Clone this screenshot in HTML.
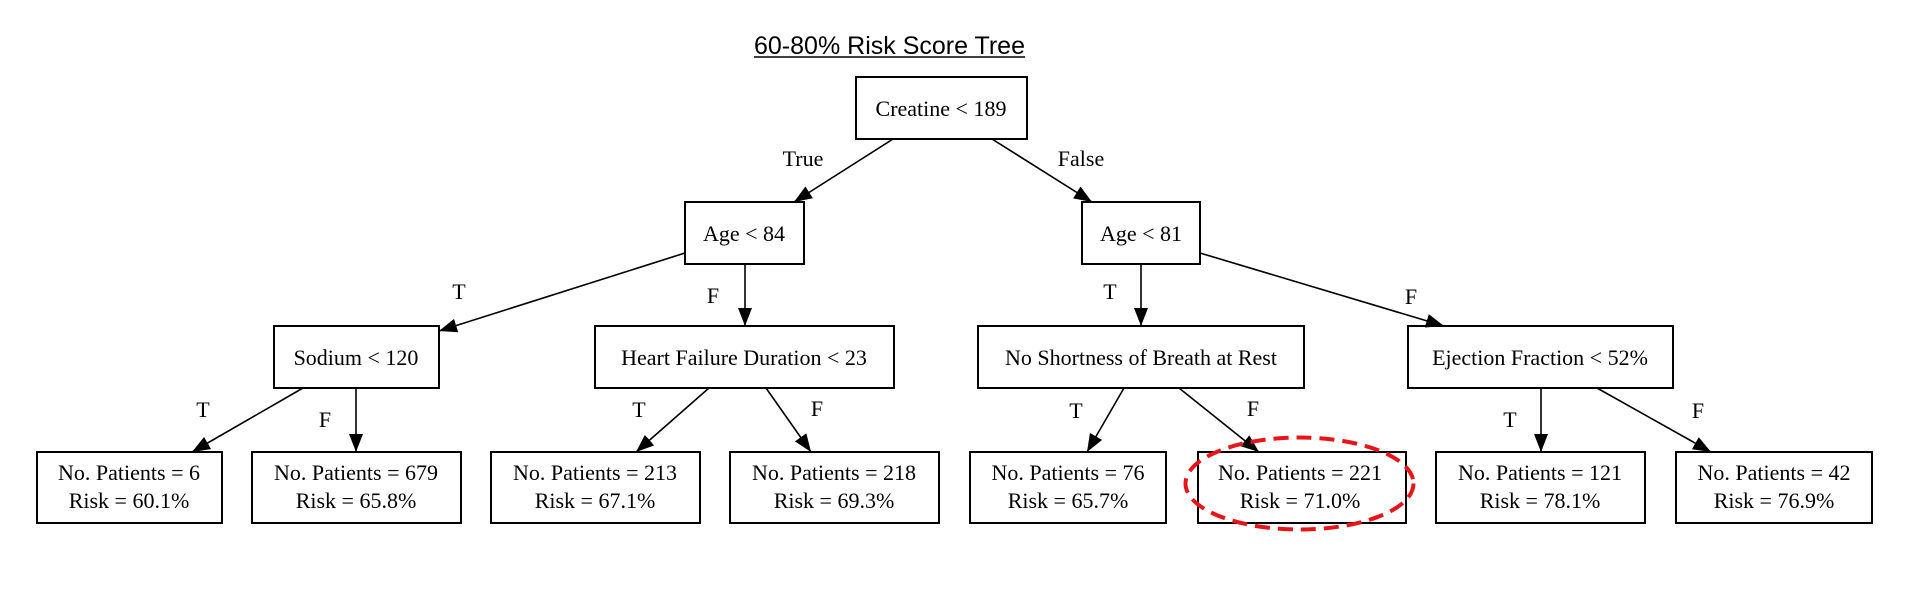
<!DOCTYPE html>
<html><head><meta charset="utf-8"><style>
html,body{margin:0;padding:0;background:#fff;}
svg{display:block;}
text{font-family:"Liberation Serif",serif;font-size:22px;fill:#000;}
.t{font-family:"Liberation Sans",sans-serif;font-size:25px;}
</style></head><body>
<svg width="1920" height="591" viewBox="0 0 1920 591" xmlns="http://www.w3.org/2000/svg">
<defs><marker id="a" markerWidth="18" markerHeight="14" refX="18" refY="7" orient="auto" markerUnits="userSpaceOnUse"><path d="M0,0 L18,7 L0,14 z" fill="#000"/></marker></defs>
<text class="t" x="754" y="54" textLength="271" lengthAdjust="spacingAndGlyphs">60-80% Risk Score Tree</text>
<line x1="754" y1="57" x2="1025" y2="57" stroke="#000" stroke-width="1.5"/>
<g fill="#fff" stroke="#000" stroke-width="2">
<rect x="856" y="77" width="171" height="62"/>
<rect x="685" y="202" width="119" height="62"/>
<rect x="1082" y="202" width="118" height="62"/>
<rect x="274" y="326" width="165" height="62"/>
<rect x="595" y="326" width="299" height="62"/>
<rect x="978" y="326" width="326" height="62"/>
<rect x="1408" y="326" width="265" height="62"/>
<rect x="37" y="452" width="185" height="71"/>
<rect x="252" y="452" width="209" height="71"/>
<rect x="491" y="452" width="209" height="71"/>
<rect x="730" y="452" width="209" height="71"/>
<rect x="970" y="452" width="196" height="71"/>
<rect x="1198" y="452" width="208" height="71"/>
<rect x="1436" y="452" width="209" height="71"/>
<rect x="1676" y="452" width="196" height="71"/>
</g>
<g stroke="#000" stroke-width="1.6" marker-end="url(#a)">
<line x1="893" y1="139" x2="794" y2="202"/>
<line x1="992" y1="139" x2="1092" y2="202"/>
<line x1="685" y1="253" x2="439" y2="331"/>
<line x1="745" y1="264" x2="745" y2="326"/>
<line x1="1141" y1="264" x2="1141" y2="326"/>
<line x1="1200" y1="253" x2="1444" y2="326"/>
<line x1="303" y1="388" x2="192" y2="452"/>
<line x1="356" y1="388" x2="356" y2="452"/>
<line x1="709" y1="388" x2="636" y2="452"/>
<line x1="766" y1="388" x2="811" y2="452"/>
<line x1="1124" y1="388" x2="1087" y2="452"/>
<line x1="1179" y1="388" x2="1259" y2="452"/>
<line x1="1541" y1="388" x2="1541" y2="452"/>
<line x1="1597" y1="388" x2="1711" y2="452"/>
</g>
<g text-anchor="middle">
<text x="941" y="116">Creatine &lt; 189</text>
<text x="744" y="241">Age &lt; 84</text>
<text x="1141" y="241">Age &lt; 81</text>
<text x="356" y="365">Sodium &lt; 120</text>
<text x="744" y="365">Heart Failure Duration &lt; 23</text>
<text x="1141" y="365">No Shortness of Breath at Rest</text>
<text x="1540" y="365">Ejection Fraction &lt; 52%</text>
<text x="129" y="480">No. Patients = 6</text><text x="129" y="508">Risk = 60.1%</text>
<text x="356" y="480">No. Patients = 679</text><text x="356" y="508">Risk = 65.8%</text>
<text x="595" y="480">No. Patients = 213</text><text x="595" y="508">Risk = 67.1%</text>
<text x="834" y="480">No. Patients = 218</text><text x="834" y="508">Risk = 69.3%</text>
<text x="1068" y="480">No. Patients = 76</text><text x="1068" y="508">Risk = 65.7%</text>
<text x="1300" y="480">No. Patients = 221</text><text x="1300" y="508">Risk = 71.0%</text>
<text x="1540" y="480">No. Patients = 121</text><text x="1540" y="508">Risk = 78.1%</text>
<text x="1774" y="480">No. Patients = 42</text><text x="1774" y="508">Risk = 76.9%</text>
<text x="803" y="166">True</text>
<text x="1081" y="166">False</text>
<text x="459" y="299">T</text>
<text x="713" y="303">F</text>
<text x="1110" y="299">T</text>
<text x="1411" y="304">F</text>
<text x="203" y="417">T</text>
<text x="325" y="427">F</text>
<text x="639" y="417">T</text>
<text x="817" y="416">F</text>
<text x="1076" y="418">T</text>
<text x="1253" y="416">F</text>
<text x="1510" y="427">T</text>
<text x="1698" y="418">F</text>
</g>
<ellipse cx="1299.5" cy="483.5" rx="114" ry="46" fill="none" stroke="#e8141a" stroke-width="4" stroke-dasharray="15 8"/>
</svg>
</body></html>
